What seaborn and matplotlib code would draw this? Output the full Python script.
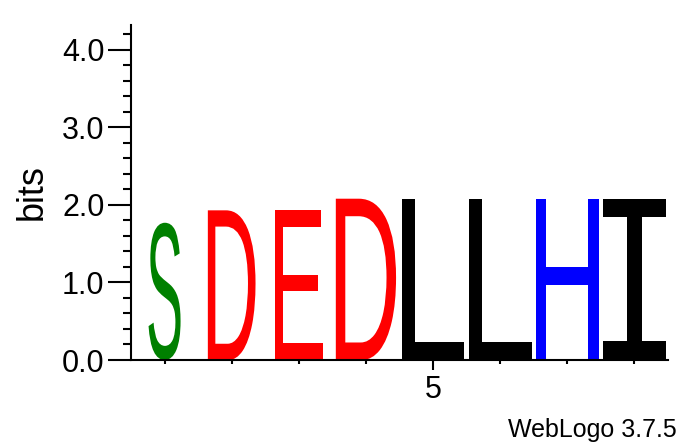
import matplotlib
matplotlib.use("Agg")
import matplotlib.pyplot as plt
import seaborn as sns
from matplotlib.textpath import TextPath
from matplotlib.patches import PathPatch
from matplotlib.font_manager import FontProperties
from matplotlib.transforms import Affine2D
from matplotlib.ticker import MultipleLocator

# sequence logo data (bits per position, column occupancy)
positions = [1, 2, 3, 4, 5, 6, 7, 8]
letters = ["S", "D", "E", "D", "L", "L", "H", "I"]
heights = [1.77, 1.93, 1.93, 2.08, 2.08, 2.08, 2.08, 2.08]
occupancy = [0.51, 0.76, 0.76, 0.96, 1.0, 1.0, 1.0, 1.0]

colors = {"S": "#008000", "D": "#ff0000", "E": "#ff0000",
          "L": "#000000", "I": "#000000", "H": "#0000ff"}

sns.set_theme(style="ticks")
plt.rcParams["font.family"] = ["Liberation Sans", "DejaVu Sans"]

fig = plt.figure(figsize=(6.94, 4.44), dpi=100)
ax = fig.add_axes([131/694, 84/444, 537/694, 335/444])

fp_reg = FontProperties(family="Liberation Sans")
fp_mono = FontProperties(family="Liberation Mono")


def draw_letter(ax, ch, x, h, w, color):
    fp = fp_mono if ch == "I" else fp_reg
    tp = TextPath((0, 0), ch, size=1, prop=fp)
    bb = tp.get_extents()
    tr = (Affine2D().translate(-bb.x0, -bb.y0)
          .scale(w / bb.width, h / bb.height)
          .translate(x - w / 2, 0))
    patch = PathPatch(tr.transform_path(tp), facecolor=color,
                      edgecolor="none", lw=0)
    ax.add_patch(patch)


for p, ch, h, occ in zip(positions, letters, heights, occupancy):
    draw_letter(ax, ch, p, h, 0.935 * occ, colors[ch])

ax.set_xlim(0.5, 8.5)
ax.set_ylim(0, 4.32)

ax.set_xticks([5])
ax.set_xticklabels(["5"])
ax.set_xticks([p for p in positions if p != 5], minor=True)
ax.set_yticks([0, 1, 2, 3, 4])
ax.set_yticklabels(["0.0", "1.0", "2.0", "3.0", "4.0"])
ax.yaxis.set_minor_locator(MultipleLocator(0.2))

ax.tick_params(axis="y", which="major", length=16.5, width=1.5,
               labelsize=22, pad=2.5, color="black", labelcolor="black")
ax.tick_params(axis="y", which="minor", length=6, width=1.5, color="black")
ax.tick_params(axis="x", which="major", length=7, width=1.5,
               labelsize=22, pad=4, color="black", labelcolor="black")
ax.tick_params(axis="x", which="minor", length=3, width=1.5, color="black")

ax.set_ylabel("bits", fontsize=26, color="black")
ax.yaxis.set_label_coords(-0.152, 0.5)

sns.despine(ax=ax)
for s in ["left", "bottom"]:
    ax.spines[s].set_linewidth(1.5)
    ax.spines[s].set_color("black")

fig.text(677/694, 7/444, "WebLogo 3.7.5", ha="right", va="baseline",
         fontsize=18, color="black")

fig.savefig("out.png", dpi=100)
